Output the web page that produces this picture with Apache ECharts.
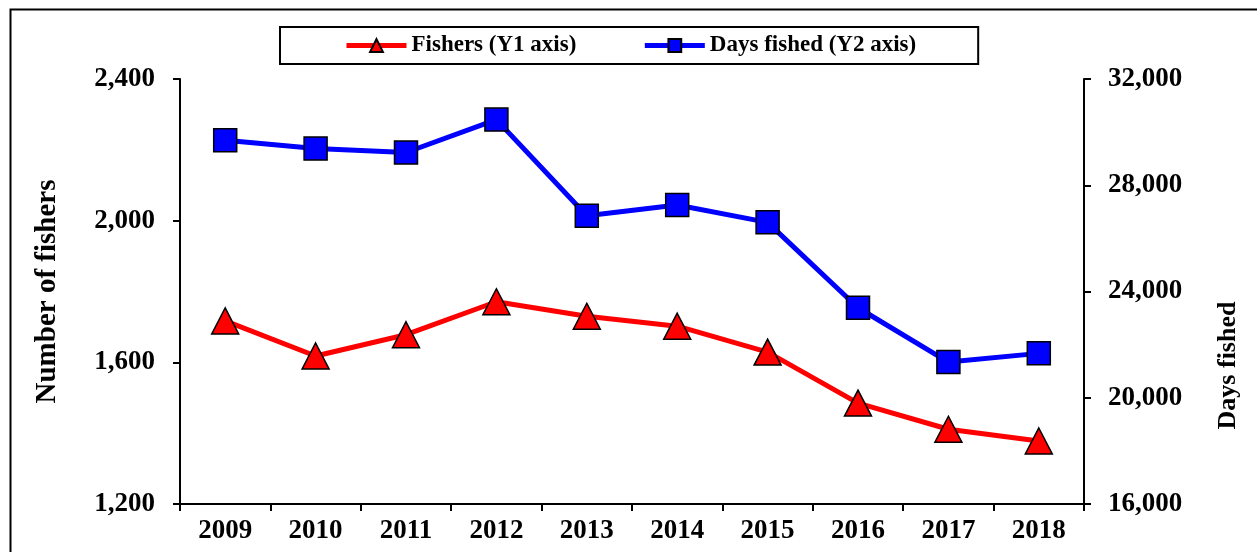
<!DOCTYPE html>
<html>
<head>
<meta charset="utf-8">
<script src="https://cdn.jsdelivr.net/npm/echarts@6/dist/echarts.min.js"></script>
<style>
  html, body { margin: 0; padding: 0; background: #fff; }
  #chart { width: 1257px; height: 552px; }
</style>
</head>
<body>
<div id="chart"></div>
<script>
const years = ['2009', '2010', '2011', '2012', '2013', '2014', '2015', '2016', '2017', '2018'];
const fishers = [1717, 1618, 1678, 1771, 1730, 1702, 1629, 1485, 1411, 1378];
const daysFished = [29698, 29382, 29232, 30471, 26854, 27256, 26603, 23388, 21345, 21671];

const FONT = '"Liberation Serif", "Times New Roman", serif';
const thousands = v => v.toLocaleString('en-US');

const axisLine = { show: true, lineStyle: { color: '#000', width: 2 } };
const axisTick = { show: true, inside: false, length: 7, lineStyle: { color: '#000', width: 2 } };
const tickLabel = { color: '#000', fontFamily: FONT, fontWeight: 'bold', fontSize: 27 };
const titleText = { color: '#000', fontFamily: FONT, fontWeight: 'bold', fontSize: 29 };

const chart = echarts.init(document.getElementById('chart'), null, { renderer: 'canvas' });
chart.setOption({
  backgroundColor: '#fff',
  animation: false,
  graphic: [
    {
      type: 'rect',
      left: 8, top: 7,
      shape: { width: 1270, height: 570 },
      style: { fill: 'none', stroke: '#000', lineWidth: 2 },
      z: -1
    }
  ],
  legend: {
    top: 27,
    left: 280,
    padding: [7, 62, 7, 64],
    borderColor: '#000',
    borderWidth: 2,
    itemWidth: 60,
    itemHeight: 16,
    itemGap: 66,
    lineStyle: { width: 5 },
    textStyle: { color: '#000', fontFamily: FONT, fontWeight: 'bold', fontSize: 23 },
    data: ['Fishers (Y1 axis)', 'Days fished (Y2 axis)']
  },
  grid: { left: 180, right: 173, top: 79, bottom: 48, containLabel: false },
  xAxis: {
    type: 'category',
    data: years,
    boundaryGap: true,
    axisLine: axisLine,
    axisTick: axisTick,
    axisLabel: Object.assign({}, tickLabel, { margin: 14 }),
    splitLine: { show: false }
  },
  yAxis: [
    {
      type: 'value',
      min: 1200, max: 2400, interval: 400,
      name: 'Number of fishers',
      nameLocation: 'middle',
      nameRotate: 90,
      nameGap: 118,
      nameTextStyle: titleText,
      axisLine: axisLine,
      axisTick: axisTick,
      axisLabel: Object.assign({}, tickLabel, { margin: 25, formatter: thousands }),
      splitLine: { show: false }
    },
    {
      type: 'value',
      position: 'right',
      min: 16000, max: 32000, interval: 4000,
      name: 'Days fished',
      nameLocation: 'middle',
      nameRotate: 90,
      nameGap: 131,
      nameTextStyle: Object.assign({}, titleText, { fontSize: 26, padding: [0, 148, 0, 0] }),
      axisLine: axisLine,
      axisTick: axisTick,
      axisLabel: Object.assign({}, tickLabel, { margin: 24, formatter: thousands }),
      splitLine: { show: false }
    }
  ],
  series: [
    {
      name: 'Fishers (Y1 axis)',
      type: 'line',
      yAxisIndex: 0,
      data: fishers,
      symbol: 'triangle',
      symbolSize: [27, 26],
      lineStyle: { color: '#ff0000', width: 5 },
      itemStyle: { color: '#ff0000', borderColor: '#000', borderWidth: 1.5 },
      z: 3
    },
    {
      name: 'Days fished (Y2 axis)',
      type: 'line',
      yAxisIndex: 1,
      data: daysFished,
      symbol: 'rect',
      symbolSize: 23,
      lineStyle: { color: '#0000ff', width: 5 },
      itemStyle: { color: '#0000ff', borderColor: '#000', borderWidth: 1.5 },
      z: 2
    }
  ]
});
</script>
</body>
</html>
